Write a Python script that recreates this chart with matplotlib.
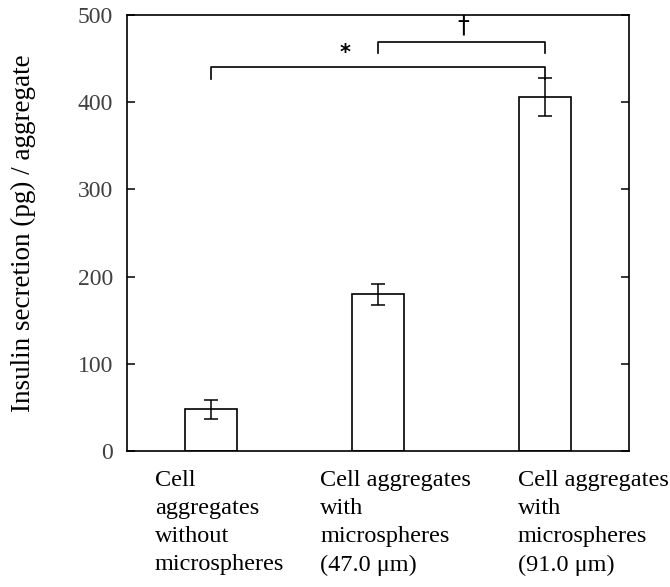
#!/usr/bin/env python3
"""Insulin secretion per cell aggregate, bar chart with error bars."""

import matplotlib
matplotlib.use('Agg')
import matplotlib.pyplot as plt
import matplotlib.transforms as mtransforms

groups = [
    'Cell\naggregates\nwithout\nmicrospheres',
    'Cell aggregates\nwith\nmicrospheres\n(47.0 \u03bcm)',
    'Cell aggregates\nwith\nmicrospheres\n(91.0 \u03bcm)',
]
secretion = [48, 180, 406]
errors = [11, 12, 22]
y_ticks = [0, 100, 200, 300, 400, 500]

# significance brackets: (from bar, to bar, level, symbol)
brackets = [(0, 2, 440, '*'), (1, 2, 469, '\u2020')]


def main():
    plt.rcParams['font.family'] = ['Liberation Serif', 'DejaVu Serif']
    fig = plt.figure(figsize=(6.7, 5.87), dpi=100)
    ax = fig.add_axes([0.1896, 0.2317, 0.7492, 0.7427])

    x = list(range(len(secretion)))
    ax.bar(x, secretion, width=0.31, color='white', edgecolor='black',
           linewidth=1.2, zorder=2)
    ax.errorbar(x, secretion, yerr=errors, fmt='none', ecolor='black',
                elinewidth=1.1, capsize=4.8, capthick=1.1, zorder=3)

    ax.set_xlim(-0.5, 2.5)
    ax.set_ylim(0, 500)
    ax.set_yticks(y_ticks)
    ax.set_xticks([])
    ax.tick_params(axis='y', direction='in', length=6, width=1.1,
                   labelsize=17, labelcolor='#404040', right=True, pad=10)
    for spine in ax.spines.values():
        spine.set_linewidth(1.2)

    ax.set_ylabel('Insulin secretion (pg) / aggregate', fontsize=19.5,
                  labelpad=30)

    # significance brackets
    drop = 13
    for (a, b, level, sym), sx in zip(brackets, [-0.2, 0.51]):
        ax.plot([a, a, b, b], [level - drop, level, level, level - drop],
                color='black', linewidth=1.2, clip_on=False)
        if sym == '*':
            ax.text(sx + (a + b) / 2, level + 5, sym, ha='center',
                    va='bottom', fontsize=15, fontweight='bold',
                    family='DejaVu Sans')
        else:
            ax.text(sx + a, level + 5, sym, ha='center', va='bottom',
                    fontsize=17, family='DejaVu Sans')

    # group labels below the axis, left aligned
    trans = mtransforms.blended_transform_factory(ax.transData, ax.transAxes)
    for xpos, label in zip([-0.335, 0.655, 1.835], groups):
        ax.text(xpos, -0.043, label, transform=trans, ha='left', va='top',
                fontsize=17.5, linespacing=1.45)

    fig.savefig('out.png', dpi=100)
    plt.close(fig)


if __name__ == '__main__':
    main()
